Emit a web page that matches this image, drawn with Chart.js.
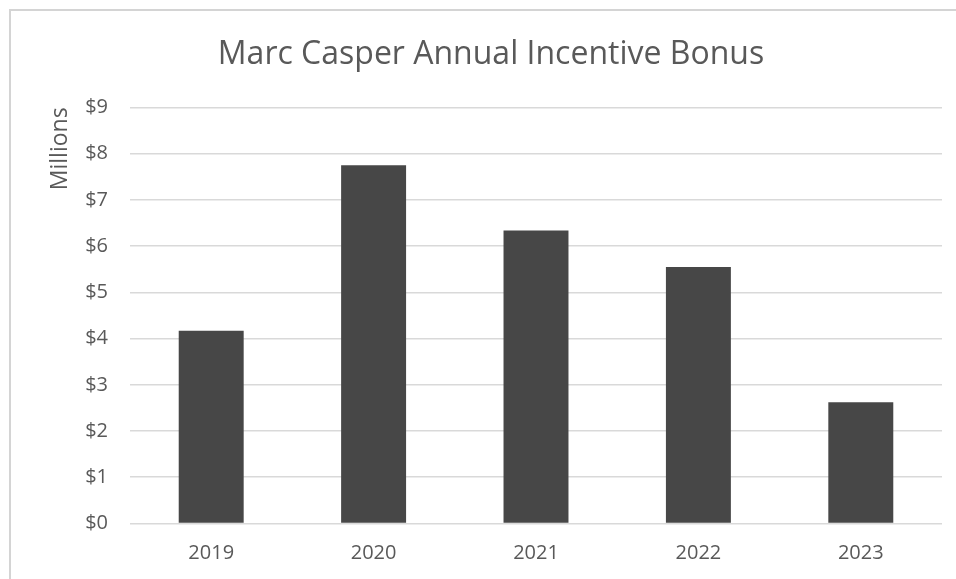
<!DOCTYPE html>
<html>
<head>
<meta charset="utf-8">
<script src="https://cdn.jsdelivr.net/npm/chart.js@4"></script>
<style>
  html, body { margin: 0; padding: 0; background: #ffffff; overflow: hidden; }
  #wrap { position: relative; width: 956px; height: 579px; }
</style>
</head>
<body>
<div id="wrap"><canvas id="c" width="956" height="579"></canvas></div>
<script>
const categories = ["2019", "2020", "2021", "2022", "2023"];
const bonusMillions = [4.17, 7.75, 6.34, 5.55, 2.62];
const yTickValues = [0, 1, 2, 3, 4, 5, 6, 7, 8, 9];
const chartTitle = "Marc Casper Annual Incentive Bonus";
const yAxisTitle = "Millions";

const FONT = "'Open Sans', 'Noto Sans', sans-serif";
const TEXT = "#595959";

const framePlugin = {
  id: 'frame',
  beforeDraw(chart) {
    const ctx = chart.ctx;
    ctx.save();
    ctx.fillStyle = '#ffffff';
    ctx.fillRect(0, 0, chart.width, chart.height);
    ctx.strokeStyle = '#d4d4d4';
    ctx.lineWidth = 2;
    ctx.beginPath();
    ctx.moveTo(10, chart.height);
    ctx.lineTo(10, 10);
    ctx.lineTo(chart.width, 10);
    ctx.stroke();
    ctx.restore();
  }
};

new Chart(document.getElementById('c'), {
  type: 'bar',
  data: {
    labels: categories,
    datasets: [{
      data: bonusMillions,
      backgroundColor: '#474747',
      borderWidth: 0,
      barPercentage: 0.4,
      categoryPercentage: 1.0
    }]
  },
  options: {
    responsive: false,
    animation: false,
    devicePixelRatio: 1,
    layout: { padding: { left: 40, right: 14, top: 0, bottom: 14 } },
    plugins: {
      legend: { display: false },
      tooltip: { enabled: false },
      title: {
        display: true,
        text: chartTitle,
        color: TEXT,
        font: { family: FONT, size: 32, weight: 'normal', lineHeight: 1.2 },
        padding: { top: 36, bottom: 33 }
      }
    },
    scales: {
      x: {
        afterFit(scale) { scale.height = 41.5; },
        grid: { display: false, drawTicks: false },
        border: { display: false },
        ticks: {
          color: TEXT,
          font: { family: FONT, size: 20 },
          padding: 18
        }
      },
      y: {
        min: 0,
        max: 9,
        afterBuildTicks(scale) {
          scale.ticks = yTickValues.map(v => ({ value: v }));
        },
        afterFit(scale) { scale.width = 90; },
        grid: { color: '#d9d9d9', lineWidth: 1.6, drawTicks: false },
        border: { display: false },
        ticks: {
          color: TEXT,
          font: { family: FONT, size: 20 },
          padding: 22,
          callback: v => '$' + v
        },
        title: {
          display: true,
          text: yAxisTitle,
          align: 'end',
          color: TEXT,
          font: { family: FONT, size: 23 },
          padding: { top: 7, bottom: 0 }
        }
      }
    }
  },
  plugins: [framePlugin]
});
</script>
</body>
</html>
